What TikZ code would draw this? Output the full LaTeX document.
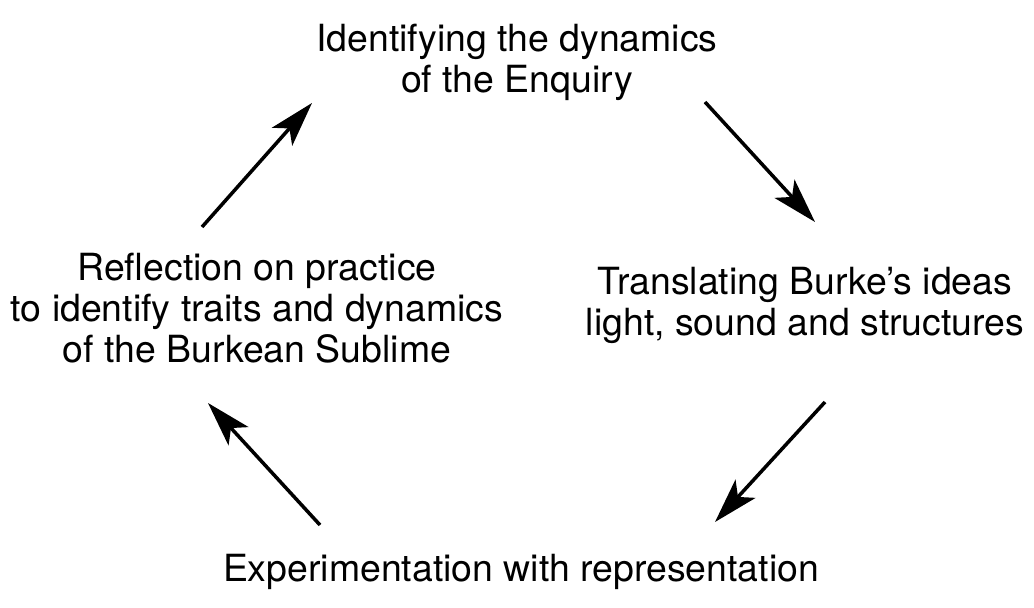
\documentclass[tikz,border=0pt]{standalone}
\usepackage{fontspec}
\setmainfont{TeX Gyre Heros}
\usetikzlibrary{arrows.meta,calc}

\begin{document}
\begin{tikzpicture}[
  x=0.02cm, y=-0.02cm,
  stage/.style={align=center,inner sep=0pt,font=\fontsize{21.3}{23.3}\selectfont},
  ar/.style={-{Stealth[length=9mm,width=5.4mm,inset=2.2mm]},line width=2pt}
]
\useasboundingbox (0,0) rectangle (1034,608);

\node[stage] (ident)  at (517,62)  {Identifying the dynamics\\of the Enquiry};
\node[stage] (transl) at (805,305) {Translating Burke’s ideas\\light, sound and structures};
\node[stage] (exper)  at (521,572) {Experimentation with representation};
\node[stage] (reflec) at (257,308) {Reflection on practice\\to identify traits and dynamics\\of the Burkean Sublime};

\draw[ar] ($(ident)+(188,40)$)   -- ($(transl)+(10,-83)$);
\draw[ar] ($(transl)+(20,97)$)   -- ($(exper)+(194,-50)$);
\draw[ar] ($(exper)+(-201,-47)$) -- ($(reflec)+(-49,95)$);
\draw[ar] ($(reflec)+(-55,-81)$) -- ($(ident)+(-205,41)$);
\end{tikzpicture}
\end{document}
